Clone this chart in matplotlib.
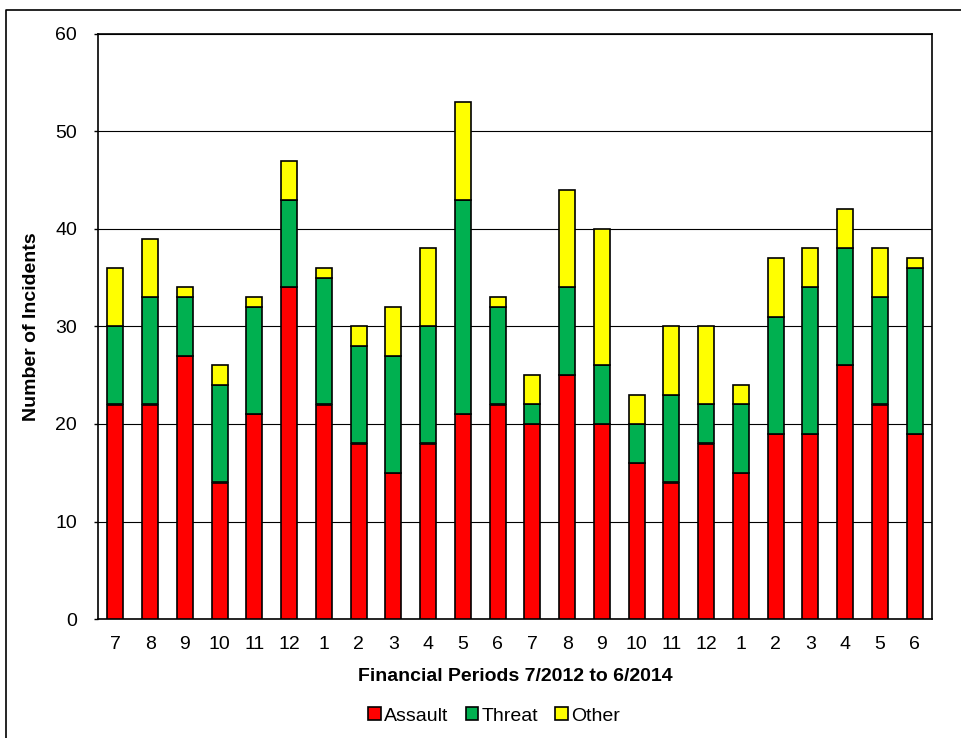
import matplotlib
matplotlib.use("Agg")
import matplotlib.pyplot as plt
import numpy as np

plt.rcParams['font.family'] = ['Liberation Sans', 'DejaVu Sans']

periods = ["7", "8", "9", "10", "11", "12", "1", "2", "3", "4", "5", "6",
           "7", "8", "9", "10", "11", "12", "1", "2", "3", "4", "5", "6"]
assault = [22, 22, 27, 14, 21, 34, 22, 18, 15, 18, 21, 22,
           20, 25, 20, 16, 14, 18, 15, 19, 19, 26, 22, 19]
threat = [8, 11, 6, 10, 11, 9, 13, 10, 12, 12, 22, 10,
          2, 9, 6, 4, 9, 4, 7, 12, 15, 12, 11, 17]
other = [6, 6, 1, 2, 1, 4, 1, 2, 5, 8, 10, 1,
         3, 10, 14, 3, 7, 8, 2, 6, 4, 4, 5, 1]

FS = 14

fig = plt.figure(figsize=(9.61, 7.38), dpi=100)
ax = fig.add_axes([98 / 961, 1 - 619 / 738, (932 - 98) / 961, (619 - 34) / 738])

# outer chart frame (top and left edges)
fig.add_artist(plt.Line2D([6 / 961, 6 / 961, 1.0], [0.0, 1 - 10 / 738, 1 - 10 / 738],
                          transform=fig.transFigure, color='black', lw=1.2))

x = np.arange(len(periods))
a = np.array(assault)
t = np.array(threat)
o = np.array(other)
w = 0.46
kw = dict(width=w, edgecolor='black', linewidth=1.2, zorder=3)
ax.bar(x, a, color='#FF0000', label='Assault', **kw)
ax.bar(x, t, bottom=a, color='#00B050', label='Threat', **kw)
ax.bar(x, o, bottom=a + t, color='#FFFF00', label='Other', **kw)

ax.set_xlim(-0.5, len(periods) - 0.5)
ax.set_ylim(0, 60)
ax.set_yticks(range(0, 61, 10))
ax.set_xticks(x)
ax.set_xticklabels(periods)
ax.yaxis.grid(True, color='black', lw=0.8, zorder=0)
ax.set_axisbelow(True)
for s in ax.spines.values():
    s.set_color('black')
    s.set_linewidth(1.2)
ax.tick_params(axis='both', labelsize=FS, colors='black', length=3, width=1)
ax.tick_params(axis='x', length=0, pad=12)
ax.tick_params(axis='y', pad=12)

ax.set_xlabel('Financial Periods 7/2012 to 6/2014', fontsize=FS,
              fontweight='bold', labelpad=11)
ax.set_ylabel('Number of Incidents', fontsize=FS, fontweight='bold', labelpad=11)

leg = fig.legend(loc='center', bbox_to_anchor=(494 / 961, 1 - 716 / 738), ncol=3,
                 frameon=False, fontsize=FS, handlelength=0.65, handleheight=0.65,
                 handletextpad=0.15, columnspacing=0.9)
for h in leg.legend_handles:
    h.set_linewidth(1.2)

fig.savefig('out.png', dpi=100)
